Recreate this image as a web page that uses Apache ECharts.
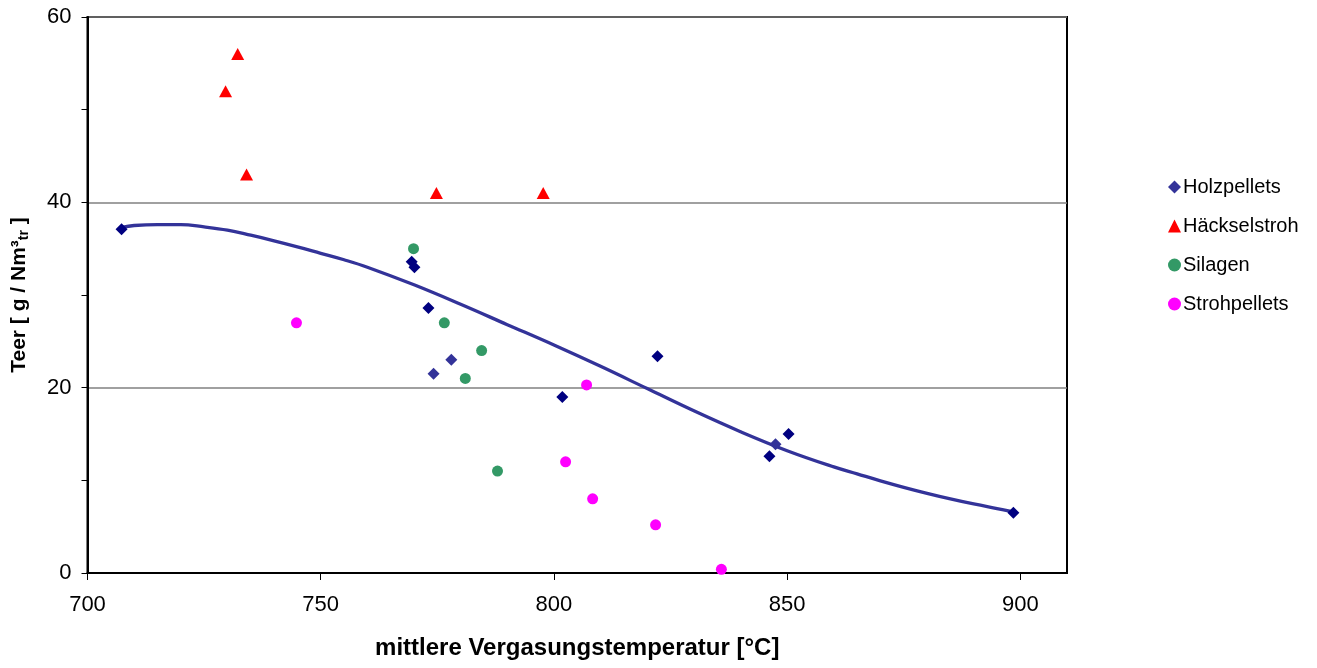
<!DOCTYPE html>
<html>
<head>
<meta charset="utf-8">
<script src="https://cdn.jsdelivr.net/npm/echarts@6/dist/echarts.min.js"></script>
<style>html,body{margin:0;padding:0;background:#fff;}#c{width:1317px;height:668px;}</style>
</head>
<body>
<div id="c"></div>
<script>
// Holzpellets: [temperature, tar]
const holzpellets = [
  [707.3, 37.1], [769.5, 33.6], [770.1, 33.0], [773.1, 28.6], [774.2, 21.5], [778.0, 23.0],
  [801.8, 19.0], [822.2, 23.4], [846.2, 12.6], [847.5, 13.9], [850.3, 15.0], [898.5, 6.5]
];
// which Holzpellets points are drawn in the darker navy
const holzDark = [true, true, true, true, false, false, true, true, true, false, true, true];
const haeckselstroh = [[732.2, 56.0], [729.6, 52.0], [734.1, 43.0], [774.8, 41.0], [797.7, 41.0]];
const silagen = [[769.9, 35.0], [776.5, 27.0], [784.5, 24.0], [781.0, 21.0], [787.9, 11.0]];
const strohpellets = [[744.8, 27.0], [807.0, 20.3], [802.5, 12.0], [808.3, 8.0], [821.8, 5.2], [835.9, 0.4]];
// trendline
const trendline = [
  [707.3, 37.3], [710, 37.5], [715, 37.6], [720, 37.6], [725, 37.35], [730, 37.0],
  [735, 36.45], [740, 35.85], [745, 35.2], [750, 34.5], [755, 33.8], [760, 33.0],
  [770, 31.1], [780, 29.0], [790, 26.8], [800, 24.6], [810, 22.3], [820, 19.9],
  [830, 17.5], [840, 15.25], [850, 13.2], [860, 11.45], [865, 10.7], [870, 9.95],
  [875, 9.25], [880, 8.6], [885, 8.0], [890, 7.45], [895, 6.95], [898.5, 6.6]
];
const xTicks = [700, 750, 800, 850, 900];
const seriesNames = ['Holzpellets', 'Häckselstroh', 'Silagen', 'Strohpellets'];

const FONT = "'Liberation Sans', Arial, sans-serif";
const chart = echarts.init(document.getElementById('c'), null, {renderer: 'canvas'});
chart.setOption({
  animation: false,
  backgroundColor: '#fff',
  textStyle: {fontFamily: FONT, color: '#000'},
  grid: {left: 87, top: 17, right: 250, bottom: 95, show: true, borderColor: '#000', borderWidth: 2, backgroundColor: 'transparent'},
  legend: {
    orient: 'vertical', left: 1163, top: 172, itemGap: 19, itemWidth: 13, itemHeight: 13,
    textStyle: {fontFamily: FONT, fontSize: 20, color: '#000', padding: [0, 0, 0, -3]},
    data: [
      {name: seriesNames[0], icon: 'diamond'},
      {name: seriesNames[1], icon: 'triangle'},
      {name: seriesNames[2], icon: 'circle'},
      {name: seriesNames[3], icon: 'circle'}
    ]
  },
  xAxis: {
    type: 'value', min: 700, max: 910, interval: 50,
    name: 'mittlere Vergasungstemperatur [°C]', nameLocation: 'middle', nameGap: 63,
    nameTextStyle: {fontFamily: FONT, fontSize: 24, fontWeight: 'bold', color: '#000'},
    axisLine: {show: true, lineStyle: {color: '#000', width: 2}},
    axisTick: {show: true, inside: false, length: 7, lineStyle: {color: '#000', width: 1}, customValues: xTicks},
    axisLabel: {fontFamily: FONT, fontSize: 22, color: '#000', margin: 21, customValues: xTicks},
    splitLine: {show: false}
  },
  yAxis: {
    type: 'value', min: 0, max: 60, interval: 20,
    name: '{b|Teer [ g / Nm³}{s|tr}{b| ]}', nameLocation: 'middle', nameGap: 54,
    nameTextStyle: {
      rich: {
        b: {fontFamily: FONT, fontSize: 21, fontWeight: 'bold', color: '#000', lineHeight: 28},
        s: {fontFamily: FONT, fontSize: 14, fontWeight: 'bold', color: '#000', lineHeight: 28, padding: [9, 0, 0, 0]}
      }
    },
    axisLine: {show: true, lineStyle: {color: '#000', width: 2}},
    axisTick: {show: true, inside: false, length: 6, lineStyle: {color: '#000', width: 1}},
    minorTick: {show: true, splitNumber: 2, length: 6, lineStyle: {color: '#000', width: 1}},
    axisLabel: {fontFamily: FONT, fontSize: 22, color: '#000', margin: 16},
    splitLine: {show: true, lineStyle: {color: '#808080', width: 1.5}},
    minorSplitLine: {show: false}
  },
  series: [
    {
      name: 'Trend', type: 'line', data: trendline, smooth: 0.4, showSymbol: false, symbol: 'none',
      lineStyle: {color: '#333399', width: 3.3}, z: 1, silent: true
    },
    {
      name: seriesNames[0], type: 'scatter', symbol: 'diamond', symbolSize: 12,
      itemStyle: {color: '#333399', opacity: 1}, z: 3,
      data: holzpellets.map((p, i) => ({value: p, itemStyle: {color: holzDark[i] ? '#000080' : '#333399', opacity: 1}}))
    },
    {
      name: seriesNames[1], type: 'scatter', symbol: 'triangle', symbolSize: [13, 12],
      itemStyle: {color: '#ff0000', opacity: 1}, z: 3, data: haeckselstroh
    },
    {
      name: seriesNames[2], type: 'scatter', symbol: 'circle', symbolSize: 11,
      itemStyle: {color: '#339966', opacity: 1}, z: 3, data: silagen
    },
    {
      name: seriesNames[3], type: 'scatter', symbol: 'circle', symbolSize: 11,
      itemStyle: {color: '#ff00ff', opacity: 1}, z: 3, data: strohpellets
    }
  ]
});
</script>
</body>
</html>
